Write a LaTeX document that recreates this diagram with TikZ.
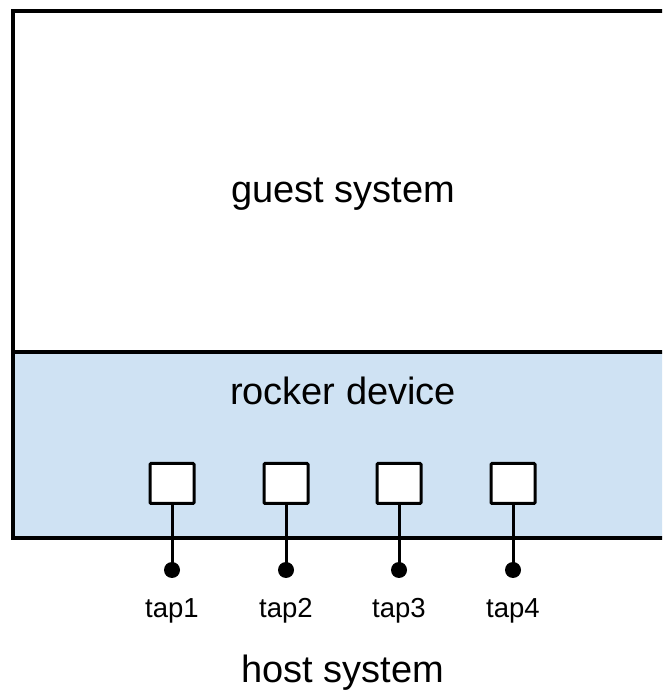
\documentclass[tikz,border=0pt]{standalone}
\usepackage{fontspec}
\setmainfont{Liberation Sans}
\definecolor{devblue}{HTML}{CFE2F3}
\begin{document}
\begin{tikzpicture}[x=1pt,y=1pt,
  frame/.style={draw=black, line width=3.5pt},
  port/.style={draw=black, fill=white, line width=3pt, minimum width=44pt, minimum height=40pt, inner sep=0pt, rounded corners=1pt},
  tapdot/.style={circle, fill=black, inner sep=0pt, minimum size=16pt},
  wire/.style={line width=3pt},
  bigtext/.style={font=\fontsize{38}{40}\selectfont, anchor=base, inner sep=0pt},
  taptext/.style={font=\fontsize{27.5}{30}\selectfont, anchor=base, inner sep=0pt}]
\useasboundingbox (0,0) rectangle (662,700);
\fill[white] (0,0) rectangle (662,700);
\clip (0,0) rectangle (662,700);
% guest and device areas
\fill[devblue] (13,162) rectangle (680,348);
\draw[frame] (680,689) -- (13,689) -- (13,162) -- (680,162);
\draw[frame] (13,348) -- (680,348);
\node[bigtext] (guest) at (343,497) {guest system};
\node[bigtext] (rocker) at (343,295) {rocker device};
% ports
\foreach \i/\x in {1/172,2/286,3/399,4/513}{
  \node[port] (p\i) at (\x,216.5) {};
  \node[tapdot] (d\i) at (\x,130) {};
  \draw[wire] (p\i.south) -- (d\i.center);
  \node[taptext] (t\i) at (\x,82) {tap\i};
}
\node[bigtext] (host) at (343,17) {host system};
\end{tikzpicture}
\end{document}
